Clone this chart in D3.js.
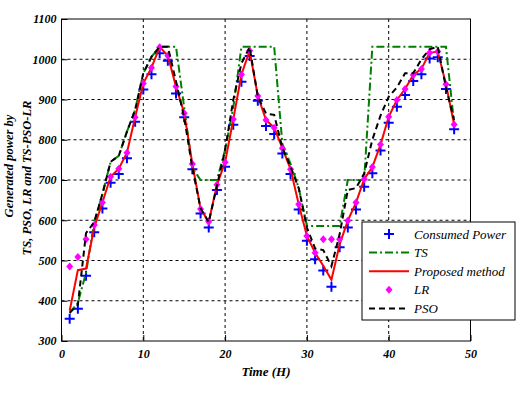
<!DOCTYPE html>
<html>
<head>
<meta charset="utf-8">
<script src="https://cdn.jsdelivr.net/npm/d3@7"></script>
<style>
  body { margin: 0; background: #fff; }
  svg { display: block; }
  .serif { font-family: "Liberation Serif", "Times New Roman", Times, "DejaVu Serif", serif; }
  .tick text { font-family: "Liberation Serif", "Times New Roman", Times, "DejaVu Serif", serif; font-weight: bold; font-style: italic; font-size: 12px; fill: #000; }
</style>
</head>
<body>
<div id="chart"></div>
<script>
// hours 1..48
let hours = d3.range(1, 49)

let consumed = [355, 380, 462, 570, 629, 693, 715, 754, 845, 925, 963, 1015, 996, 915, 856, 727,
  617, 582, 675, 733, 837, 944, 1008, 897, 834, 814, 766, 715, 627, 549, 503, 475,
  435, 533, 582, 627, 683, 717, 773, 842, 882, 911, 946, 963, 1002, 1005, 926, 826]

let ts = [370, 395, 470, 595, 665, 745, 760, 820, 874, 965, 1006, 1031, 1031, 1031, 880, 730,
  700, 700, 700, 775, 880, 1031, 1031, 1031, 1031, 1031, 790, 740, 680, 586, 586, 586,
  586, 586, 700, 700, 700, 1031, 1031, 1031, 1031, 1031, 1031, 1031, 1031, 1031, 1031, 840]

let proposed = [375, 476, 480, 582, 644, 708, 728, 768, 856, 940, 979, 1030, 1009, 932, 866, 740,
  628, 596, 688, 744, 851, 962, 1021, 909, 849, 830, 779, 727, 640, 561, 519, 487,
  452, 540, 599, 644, 702, 732, 788, 857, 899, 926, 961, 976, 1016, 1019, 938, 838]

let lr = [485, 509, 553, 588, 644, 708, 728, 768, 856, 940, 979, 1030, 1009, 932, 866, 740,
  628, 596, 688, 744, 851, 962, 1021, 909, 849, 830, 779, 727, 640, 561, 519, 553,
  553, 553, 599, 644, 702, 732, 788, 857, 899, 926, 961, 976, 1016, 1019, 938, 838]

let pso = [370, 390, 568, 595, 665, 745, 760, 820, 874, 965, 1006, 1031, 1031, 945, 855, 730,
  630, 595, 685, 775, 899, 990, 1030, 907, 865, 862, 780, 733, 680, 582, 530, 526,
  486, 565, 675, 680, 716, 800, 860, 907, 930, 965, 965, 1000, 1025, 1031, 930, 849]

let xTicks = [0, 10, 20, 30, 40, 50]
let yTicks = [300, 400, 500, 600, 700, 800, 900, 1000, 1100]

let legendItems = ["Consumed Power", "TS", "Proposed method", "LR", "PSO"]

const width = 527, height = 396
const margin = {left: 61.5, right: 56.5, top: 19, bottom: 55}
const plotW = width - margin.left - margin.right
const plotH = height - margin.top - margin.bottom

let svg = d3.select("#chart").append("svg")
  .attr("width", width).attr("height", height)

let g = svg.append("g")
  .attr("transform", `translate(${margin.left},${margin.top})`)

let x = d3.scaleLinear().domain([0, 50]).range([0, plotW])
let y = d3.scaleLinear().domain([300, 1100]).range([plotH, 0])

// grid lines (dotted, matlab style)
g.selectAll(".gx").data(xTicks.slice(1, -1)).enter().append("line")
  .attr("x1", d => x(d)).attr("x2", d => x(d))
  .attr("y1", 0).attr("y2", plotH)
  .attr("stroke", "#000").attr("stroke-width", 1).attr("stroke-dasharray", "3,3")
g.selectAll(".gy").data(yTicks.slice(1, -1)).enter().append("line")
  .attr("x1", 0).attr("x2", plotW)
  .attr("y1", d => y(d)).attr("y2", d => y(d))
  .attr("stroke", "#000").attr("stroke-width", 1).attr("stroke-dasharray", "3,3")

// axes, ticks pointing inward
g.append("g")
  .attr("transform", `translate(0,${plotH})`)
  .call(d3.axisBottom(x).tickValues(xTicks).tickFormat(d3.format("d"))
    .tickSizeInner(-6).tickSizeOuter(0).tickPadding(8))
g.append("g")
  .call(d3.axisLeft(y).tickValues(yTicks).tickFormat(d3.format("d"))
    .tickSizeInner(-6).tickSizeOuter(0).tickPadding(5))
g.selectAll(".domain").remove()
g.selectAll(".tick line").attr("stroke", "#000")

// box
g.append("rect")
  .attr("width", plotW).attr("height", plotH)
  .attr("fill", "none").attr("stroke", "#000").attr("stroke-width", 1)

let line = d3.line().x((d, i) => x(hours[i])).y(d => y(d))

// consumed power markers
g.selectAll(".cp").data(consumed).enter().append("path")
  .attr("d", "M-5,0H5M0,-5V5")
  .attr("transform", (d, i) => `translate(${x(hours[i])},${y(d)})`)
  .attr("stroke", "#0000ff").attr("stroke-width", 2)

g.append("path").datum(ts).attr("d", line)
  .attr("fill", "none").attr("stroke", "#008000").attr("stroke-width", 2)
  .attr("stroke-dasharray", "8,3,2,3")

g.append("path").datum(proposed).attr("d", line)
  .attr("fill", "none").attr("stroke", "#ff0000").attr("stroke-width", 2)

g.selectAll(".lr").data(lr).enter().append("path")
  .attr("d", "M0,-4L3.5,0L0,4L-3.5,0Z")
  .attr("transform", (d, i) => `translate(${x(hours[i])},${y(d)})`)
  .attr("fill", "#ff00ff")

g.append("path").datum(pso).attr("d", line)
  .attr("fill", "none").attr("stroke", "#000").attr("stroke-width", 2)
  .attr("stroke-dasharray", "6,4")

// axis titles
svg.append("text").attr("class", "serif")
  .attr("x", margin.left + x(25)).attr("y", 376)
  .attr("text-anchor", "middle")
  .style("font-weight", "bold")
  .style("font-style", "italic").style("font-size", "13px")
  .text("Time (H)")

let ylab = [["Generated power by", 13, 166], ["TS, PSO, LR and TS-PSO-LR", 31, 178]]
ylab.forEach(l => {
  svg.append("text").attr("class", "serif")
    .attr("transform", `translate(${l[1]},${l[2]}) rotate(-90)`)
    .attr("text-anchor", "middle")
    .style("font-weight", "bold")
    .style("font-style", "italic").style("font-size", "12.5px")
    .text(l[0])
})

// legend
let leg = svg.append("g").attr("transform", "translate(362,222)")
leg.append("rect").attr("width", 153).attr("height", 98)
  .attr("fill", "#fff").attr("stroke", "#000").attr("stroke-width", 1)

legendItems.forEach((name, i) => {
  let ly = 12 + i * 18.6
  let row = leg.append("g").attr("transform", `translate(0,${ly})`)
  if (i == 0) {
    row.append("path").attr("d", "M22,0H32M27,-5V5")
      .attr("stroke", "#0000ff").attr("stroke-width", 2)
  } else if (i == 3) {
    row.append("path").attr("d", "M27,-4L30.5,0L27,4L23.5,0Z").attr("fill", "#ff00ff")
  } else {
    let st = [null, ["#008000", "8,3,2,3"], ["#ff0000", null], null, ["#000", "6,4"]][i]
    row.append("line").attr("x1", 7).attr("x2", 47)
      .attr("stroke", st[0]).attr("stroke-width", 2)
      .attr("stroke-dasharray", st[1])
  }
  row.append("text").attr("class", "serif").attr("x", 52).attr("y", 4.5)
    .style("font-style", "italic")
    .style("font-size", "13px")
    .text(name)
})
</script>
</body>
</html>
